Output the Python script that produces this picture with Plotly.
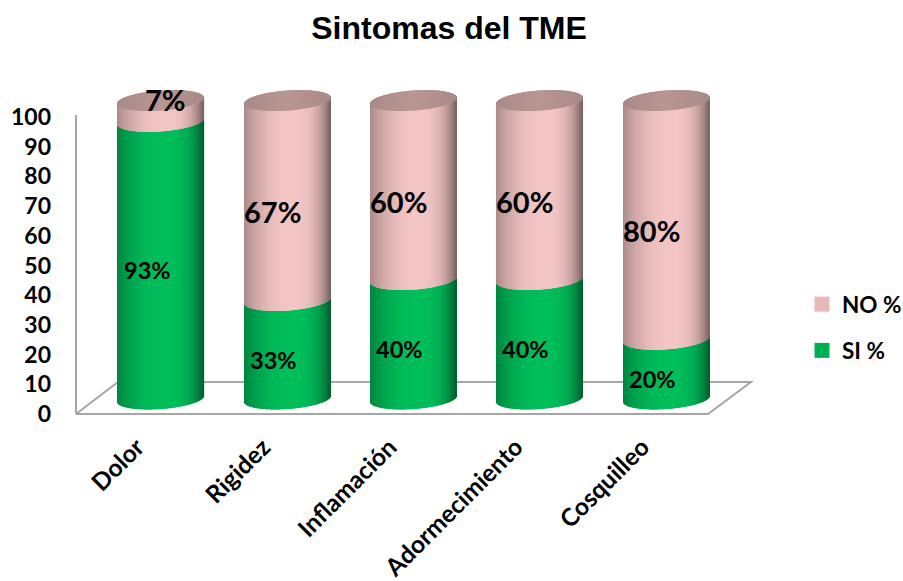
import numpy as np
import plotly.graph_objects as go

categories = ["Dolor", "Rigidez", "Inflamación", "Adormecimiento", "Cosquilleo"]
si_values = [93, 33, 40, 40, 20]
no_values = [7, 67, 60, 60, 80]
y_ticks = [0, 10, 20, 30, 40, 50, 60, 70, 80, 90, 100]

W, H = 903, 581
L, R, T, B = 52, 760, 80, 427      # plot box in px
CAT0_PX, CAT_STEP = 161.0, 126.3   # px of first category / spacing
Y0_PX, Y_SCALE = 414.0, 2.97       # px of value 0 / px per unit

x_range = [(L - CAT0_PX) / CAT_STEP, (R - CAT0_PX) / CAT_STEP]
y_range = [(Y0_PX - B) / Y_SCALE, (Y0_PX - T) / Y_SCALE]

# projection of the pseudo-3D cylinder
LIFT = 15.0 / Y_SCALE          # cylinder base above the axis zero
V_SCALE = 2.985 / Y_SCALE      # axis units per percent
HALF_W = 43.0 / CAT_STEP       # half-width of a cylinder
ELL_H = 10.0 / Y_SCALE         # half-height of the ellipses
TILT = 3.0 / Y_SCALE           # tilt of the ellipses
STEP = 1.0 / 43.0              # one px strip in u


def mix(c, k):
    return "rgb(%d,%d,%d)" % tuple(int(round(v * k)) for v in c)


def shade(u):
    d = u - 0.1
    return 1 - (0.30 * (abs(d) / 1.1) ** 2.2 if d < 0 else 0.50 * (abs(d) / 0.9) ** 3)


def front(v, u):
    return LIFT + V_SCALE * v + TILT * u - ELL_H * np.sqrt(1 - u * u)


def back(v, u):
    return LIFT + V_SCALE * v + TILT * u + ELL_H * np.sqrt(1 - u * u)


us = np.arange(-1 + STEP / 2, 1, STEP)
GREEN = (0, 190, 90)
PINK = (243, 197, 196)
CAP = (184, 150, 148)


def side_trace(starts, ends, color):
    xs, bases, heights, cols = [], [], [], []
    for i, (a, b) in enumerate(zip(starts, ends)):
        for u in us:
            xs.append(i + u * HALF_W)
            bases.append(front(a, u))
            heights.append(front(b, u) - front(a, u))
            cols.append(mix(color, shade(u)))
    return go.Bar(x=xs, y=heights, base=bases, width=1.3 / CAT_STEP,
                  marker=dict(color=cols, line=dict(width=0)),
                  showlegend=False, hoverinfo="skip")


def cap_trace(tops, color):
    xs, bases, heights, cols = [], [], [], []
    for i, t in enumerate(tops):
        for u in us:
            xs.append(i + u * HALF_W)
            bases.append(front(t, u))
            heights.append(back(t, u) - front(t, u))
            cols.append(mix(color, 1 - 0.08 * abs(u)))
    return go.Bar(x=xs, y=heights, base=bases, width=1.3 / CAT_STEP,
                  marker=dict(color=cols, line=dict(width=0)),
                  showlegend=False, hoverinfo="skip")


tops = [a + b for a, b in zip(si_values, no_values)]
fig = go.Figure()
fig.add_trace(side_trace([0] * 5, si_values, GREEN))
fig.add_trace(side_trace(si_values, tops, PINK))
fig.add_trace(cap_trace(tops, CAP))

# legend keys
fig.add_trace(go.Scatter(x=[None], y=[None], mode="markers", name="NO %", legendgroup="no",
                         marker=dict(symbol="square", size=15, color="#E6B9B8")))
fig.add_trace(go.Scatter(x=[None], y=[None], mode="markers", name="SI %", legendgroup="si",
                         marker=dict(symbol="square", size=15, color="#00B050")))

# floor and wall, drawn behind the cylinders
def px_x(p):
    return (p - CAT0_PX) / CAT_STEP


def px_y(p):
    return (Y0_PX - p) / Y_SCALE


floor = [(76, 414), (708, 414), (751, 382), (118, 382), (76, 414)]
path = "M " + " L ".join(f"{px_x(a):.4f},{px_y(b):.4f}" for a, b in floor)
line = dict(color="#A6A6A6", width=2)
shapes = [
    dict(type="path", path=path, xref="x", yref="y", line=line, layer="below"),
    dict(type="line", x0=px_x(76), x1=px_x(76), y0=px_y(414), y1=px_y(115),
         xref="x", yref="y", line=line, layer="below"),
]

# data labels
LABEL_FONT = "Lato"
annotations = []
for i, (s, n) in enumerate(zip(si_values, no_values)):
    annotations.append(dict(x=i, y=LIFT + V_SCALE * s / 2, text=f"{s}%", xref="x", yref="y",
                            showarrow=False, xshift=-14, yshift=-10,
                            font=dict(family=LABEL_FONT, size=23.5, weight=700, color="black")))
    small = n < 10
    annotations.append(dict(x=i, y=LIFT + V_SCALE * (s + n / 2), text=f"{n}%", xref="x", yref="y",
                            showarrow=False, xshift=4 if small else -15, yshift=11 if small else -11,
                            font=dict(family=LABEL_FONT, size=29, weight=700, color="black")))

fig.update_layout(
    width=W, height=H, autosize=False,
    margin=dict(l=L, r=W - R, t=T, b=H - B),
    paper_bgcolor="white", plot_bgcolor="rgba(0,0,0,0)",
    barmode="overlay",
    title=dict(text="<b>Sintomas del TME</b>", x=449 / W, xanchor="center", xref="container",
               y=1 - 28 / H, yanchor="middle",
               font=dict(family="Liberation Sans", size=32, color="black")),
    xaxis=dict(range=x_range, tickmode="array", tickvals=[i - 0.19 for i in range(5)], ticktext=categories,
               tickangle=-45, showgrid=False, zeroline=False, showline=False, ticks="", automargin=False,
               tickfont=dict(family=LABEL_FONT, size=24.5, weight=700, color="black")),
    yaxis=dict(range=y_range, tickmode="array", tickvals=y_ticks, showgrid=False, zeroline=False,
               showline=False, ticks="", automargin=False,
               tickfont=dict(family=LABEL_FONT, size=23, weight=700, color="black")),
    legend=dict(x=802 / W, xanchor="left", y=1 - 283 / H, yanchor="top", xref="container", yref="container",
                tracegroupgap=14, itemwidth=30, bgcolor="rgba(0,0,0,0)",
                font=dict(family=LABEL_FONT, size=22.5, weight=700, color="black")),
    shapes=shapes, annotations=annotations, hovermode=False,
)
fig.write_html("out.html", post_script="document.body.style.margin='0';",
               config={"displayModeBar": False})
